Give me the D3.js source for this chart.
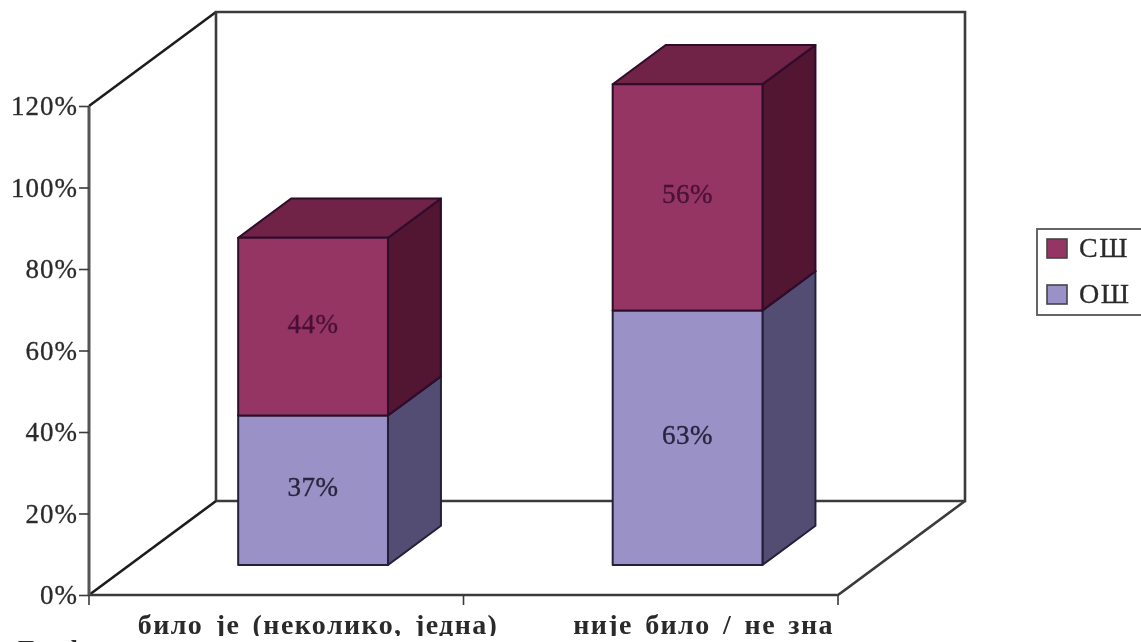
<!DOCTYPE html>
<html><head><meta charset="utf-8">
<script src="https://cdn.jsdelivr.net/npm/d3@7"></script>
<style>html,body{margin:0;background:#fff;overflow:hidden}svg{display:block}text{font-family:"Liberation Serif",serif}</style>
</head><body><svg id="c" width="1141" height="642"></svg>
<script>
const categories=["било је (неколико, једна)","није било / не зна"];
const seriesNames=["ОШ","СШ"];
const osValues=[37,63];
const ssValues=[44,56];
const tickValues=[0,20,40,60,80,100,120];
const captionFragment="Графикон";
const colors={"ОШ":{front:"#9a92c6",side:"#534e73",top:"#7f79a6",label:"#2a2540"},"СШ":{front:"#953563",side:"#521232",top:"#702046",label:"#4a1238"}};
const ink="#3a3a3a";

const svg=d3.select("#c");
svg.append("defs").append("filter").attr("id","soft").append("feGaussianBlur").attr("stdDeviation",0.5);
const root=svg.append("g").attr("filter","url(#soft)");

const x=d3.scaleBand().domain(categories).range([89,838]);
const y=d3.scaleLinear().domain([0,120]).range([595,106]);
const barY=d3.scaleLinear().domain([0,120]).range([565,80.2]);
const barX=d3.scaleBand().domain(categories).range([89,838]).paddingInner(0.6).paddingOuter(0.3);
const depthX=d3.scaleLinear().domain([0,1]).range([0,127]);
const depthY=d3.scaleLinear().domain([0,1]).range([0,-94]);
const path=p=>d3.line()(p)+"Z";
const barFrontDepth=0.29;
const barDepth=0.417;

// walls
const wall=root.append("g").attr("fill","none").attr("stroke",ink).attr("stroke-width",2.6);
const [x0,x1]=x.range(),bx=depthX(1),by=depthY(1),y0=y(0),yT=y(120);
wall.append("path").attr("stroke","#1f1f1f").attr("d",d3.line()([[x0,y0],[x0+bx,y0+by]]));
wall.append("path").attr("stroke","#1f1f1f").attr("d",d3.line()([[x0,yT],[x0+bx,yT+by]]));
wall.append("path").attr("d",d3.line()([[x0+bx,y0+by],[x0+bx,yT+by],[x1+bx,yT+by],[x1+bx,y0+by],[x0+bx,y0+by]]));
wall.append("path").attr("d",d3.line()([[x0,y0],[x1,y0],[x1+bx,y0+by]]));
wall.append("path").attr("stroke-width",3).attr("stroke","#555").attr("d",d3.line()([[x0,yT],[x0,y0]]));

// axes
const yAxis=root.append("g").attr("transform",`translate(${x0},0)`)
  .call(d3.axisLeft(y).tickValues(tickValues).tickFormat(d=>d+"%").tickSize(10).tickSizeOuter(0));
yAxis.select(".domain").remove();
yAxis.selectAll("line").attr("stroke",ink).attr("stroke-width",1.6);
yAxis.selectAll("text").attr("font-size",27).attr("x",-11).attr("dy","0.32em").style("letter-spacing","1px").attr("fill","#2b2b2b").attr("stroke","#2b2b2b").attr("stroke-width",0.3);
const xTicks=root.append("g").attr("stroke",ink).attr("stroke-width",1.6);
[x0,x0+x.bandwidth(),x1].forEach(t=>xTicks.append("line").attr("x1",t).attr("x2",t).attr("y1",y0).attr("y2",y0+10));
root.append("g").selectAll("text").data(categories).join("text")
  .attr("x",d=>x(d)+x.bandwidth()/2+depthX(barFrontDepth)+(d===categories[1]?16:5)).attr("y",634).attr("text-anchor","middle")
  .attr("font-size",28).attr("font-weight",700).attr("fill","#2b2b2b").style("letter-spacing","1.4px").style("word-spacing","4px").text(d=>d);
// the page photograph is cut just under the axis labels; only the tops of the caption show
root.append("rect").attr("x",0).attr("y",636).attr("width",1141).attr("height",6).attr("fill","#fff");
root.append("text").attr("x",18).attr("y",659).attr("font-size",27).attr("font-weight",700).attr("fill","#2b2b2b").style("letter-spacing","1px").text(captionFragment);

// bars
const stack=d3.stack().keys(seriesNames)(categories.map((c,i)=>({c,"ОШ":osValues[i],"СШ":ssValues[i]})));
const shift=depthX(barFrontDepth),dxB=depthX(barDepth),dyB=depthY(barDepth);
const bars=root.append("g").attr("stroke-width",2).attr("stroke-linejoin","round");
stack.forEach(s=>{
  const col=colors[s.key];
  const g=bars.append("g").attr("stroke",s.key==="ОШ"?"#23203a":"#2e0c2c");
  s.forEach((d,i)=>{
    const left=barX(categories[i])+shift;
    const right=left+barX.bandwidth();
    const b=barY(d[0]),t=barY(d[1]);
    g.append("path").attr("fill",col.side).attr("d",path([[right,b],[right+dxB,b+dyB],[right+dxB,t+dyB],[right,t]]));
    g.append("path").attr("fill",col.top).attr("d",path([[left,t],[left+dxB,t+dyB],[right+dxB,t+dyB],[right,t]]));
    g.append("path").attr("fill",col.front).attr("d",path([[left,b],[right,b],[right,t],[left,t]]));
  });
});
// value labels
stack.forEach(s=>{
  root.append("g").selectAll("text").data(s).join("text")
    .attr("x",(d,i)=>barX(categories[i])+shift+barX.bandwidth()/2)
    .attr("y",d=>(barY(d[0])+barY(d[1]))/2+6)
    .attr("text-anchor","middle").attr("font-size",27).style("letter-spacing","0.6px")
    .attr("fill",colors[s.key].label).attr("stroke",colors[s.key].label).attr("stroke-width",0.4)
    .text((d,i)=>(s.key==="ОШ"?osValues:ssValues)[i]+"%");
});

// legend
const lg=root.append("g");
lg.append("rect").attr("x",1037).attr("y",229).attr("width",120).attr("height",86).attr("fill","#fff").attr("stroke","#666").attr("stroke-width",2);
[...seriesNames].reverse().forEach((n,i)=>{
  const yy=239+i*46;
  lg.append("rect").attr("x",1047).attr("y",yy).attr("width",20).attr("height",19).attr("fill",colors[n].front).attr("stroke","#444").attr("stroke-width",1.6);
  lg.append("text").attr("x",1079).attr("y",yy+18).attr("font-size",28).attr("fill","#2b2b2b").attr("stroke","#2b2b2b").attr("stroke-width",0.3).style("letter-spacing","1.5px").text(n);
});
</script></body></html>
